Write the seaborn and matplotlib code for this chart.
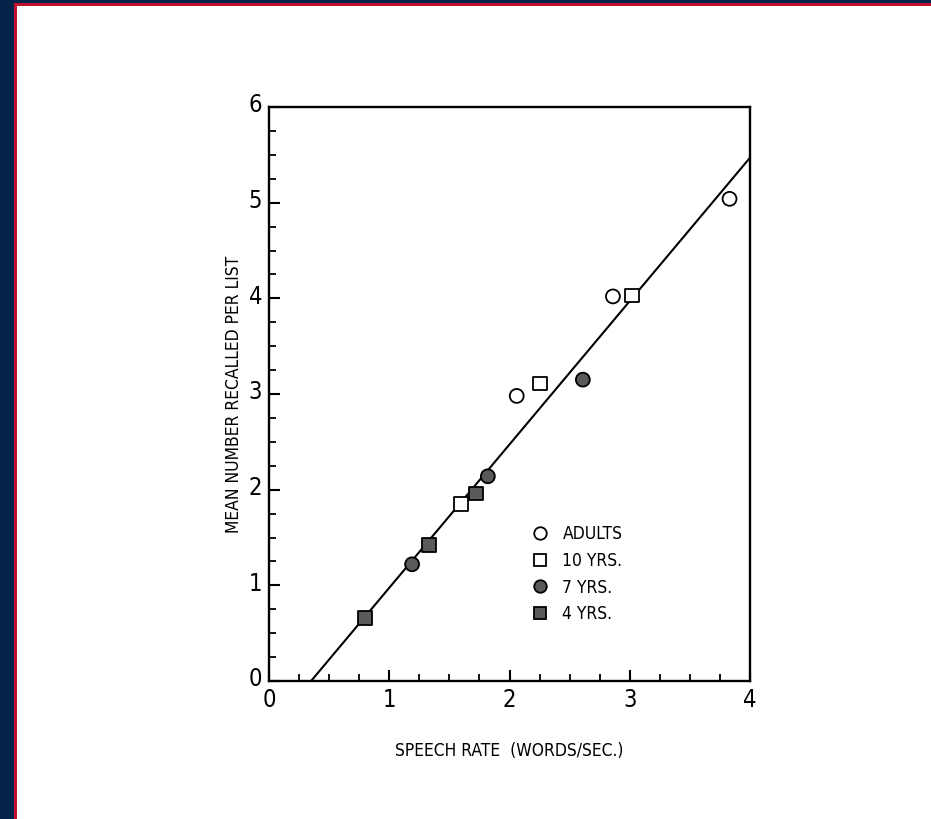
import matplotlib
matplotlib.use("Agg")
import matplotlib.pyplot as plt
import matplotlib.transforms as mtransforms
from matplotlib.patches import Rectangle
from matplotlib.ticker import MultipleLocator
import numpy as np
import pandas as pd
import seaborn as sns

# Speech rate (words/sec.) and mean number recalled per list, by age group
adults_rate = [2.06, 2.86, 3.83]
adults_recall = [2.98, 4.02, 5.04]
yrs10_rate = [1.60, 2.25, 3.02]
yrs10_recall = [1.85, 3.11, 4.03]
yrs7_rate = [1.19, 1.82, 2.61]
yrs7_recall = [1.22, 2.14, 3.15]
yrs4_rate = [0.80, 1.33, 1.72]
yrs4_recall = [0.66, 1.42, 1.96]

groups = ["ADULTS", "10 YRS.", "7 YRS.", "4 YRS."]

# Fitted line end points
fit_rate = [0.35, 4.0]
fit_recall = [0.0, 5.47]

x_ticks = [0, 1, 2, 3, 4]
y_ticks = [0, 1, 2, 3, 4, 5, 6]

df = pd.DataFrame({
    "rate": adults_rate + yrs10_rate + yrs7_rate + yrs4_rate,
    "recall": adults_recall + yrs10_recall + yrs7_recall + yrs4_recall,
    "group": [groups[0]] * 3 + [groups[1]] * 3 + [groups[2]] * 3 + [groups[3]] * 3,
})

sns.set_style("ticks")
plt.rcParams["font.family"] = ["DejaVu Sans"]
plt.rcParams["font.stretch"] = "condensed"
for key in ["text.color", "axes.labelcolor", "xtick.color", "ytick.color",
            "axes.edgecolor"]:
    plt.rcParams[key] = "black"

fig = plt.figure(figsize=(9.31, 8.19), dpi=100)
fig.patch.set_facecolor("white")

# Frame strips along the top and left edges
navy = "#04234a"
red = "#c0122f"
fig.patches.append(Rectangle((0, 0), 14 / 931, 1, transform=fig.transFigure,
                             facecolor=navy, edgecolor="none", zorder=0))
fig.patches.append(Rectangle((0, 1 - 3 / 819), 1, 3 / 819, transform=fig.transFigure,
                             facecolor=navy, edgecolor="none", zorder=0))
fig.patches.append(Rectangle((14 / 931, 0), 3 / 931, 1 - 3 / 819, transform=fig.transFigure,
                             facecolor=red, edgecolor="none", zorder=1))
fig.patches.append(Rectangle((14 / 931, 1 - 6 / 819), 1 - 14 / 931, 3 / 819,
                             transform=fig.transFigure,
                             facecolor=red, edgecolor="none", zorder=1))

ax = fig.add_axes([269 / 931, 1 - 681 / 819, (750 - 269) / 931, (681 - 107) / 819])

sns.lineplot(x=fit_rate, y=fit_recall, color="black", linewidth=1.5, ax=ax,
             zorder=2)

palette = {groups[0]: "white", groups[1]: "white",
           groups[2]: "#5a5a5a", groups[3]: "#5a5a5a"}
markers = {groups[0]: "o", groups[1]: "s", groups[2]: "o", groups[3]: "s"}
sns.scatterplot(data=df, x="rate", y="recall", hue="group", style="group",
                hue_order=groups, style_order=groups,
                palette=palette, markers=markers, s=100,
                edgecolor="black", linewidth=1.3, ax=ax, zorder=3)

ax.set_xlim(0, 4)
ax.set_ylim(0, 6)
ax.set_xticks(x_ticks)
ax.set_yticks(y_ticks)
ax.set_xticklabels([str(v) for v in x_ticks])
ax.set_yticklabels([str(v) for v in y_ticks])
ax.xaxis.set_minor_locator(MultipleLocator(0.25))
ax.yaxis.set_minor_locator(MultipleLocator(0.25))
ax.tick_params(which="major", direction="in", length=8, width=1.5,
               labelsize=17, colors="black", top=False, right=False)
ax.tick_params(which="minor", direction="in", length=5, width=1.3,
               top=False, right=False)
ax.tick_params(axis="y", which="major", pad=5)
ax.tick_params(axis="x", which="major", pad=5)

for side in ["top", "right", "bottom", "left"]:
    ax.spines[side].set_visible(True)
    ax.spines[side].set_linewidth(1.7)
    ax.spines[side].set_color("black")

# Lift the y tick labels slightly above their ticks
shift = mtransforms.ScaledTranslation(0, 3 / 72, fig.dpi_scale_trans)
for lbl in ax.get_yticklabels():
    lbl.set_transform(lbl.get_transform() + shift)

ax.set_xlabel("SPEECH RATE  (WORDS/SEC.)", fontsize=12.5, labelpad=22)
ax.set_ylabel("MEAN NUMBER RECALLED PER LIST", fontsize=12.5, labelpad=4)

handles, labels = ax.get_legend_handles_labels()
ax.legend(handles=handles, labels=labels, loc="center left",
          bbox_to_anchor=(0.545, 0.186), frameon=False, fontsize=12.5,
          handlelength=1.0, handletextpad=0.8, labelspacing=0.5,
          borderpad=0, borderaxespad=0, markerscale=0.9)

fig.savefig("out.png", dpi=100, facecolor="white")
